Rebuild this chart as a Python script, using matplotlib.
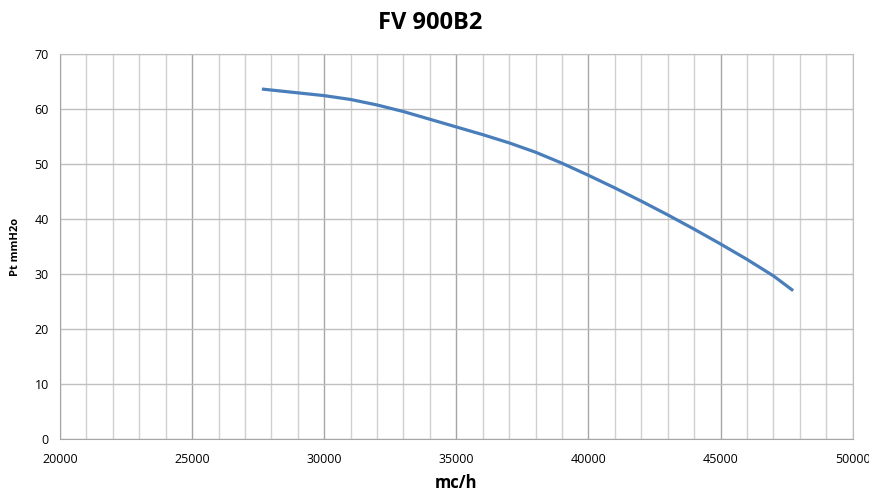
import matplotlib.pyplot as plt
import numpy as np
from matplotlib.ticker import MultipleLocator

plt.rcParams['font.family'] = ['Open Sans', 'DejaVu Sans']

title = "FV 900B2"
flow = [27640, 30000, 31000, 32000, 33000, 34000, 35000, 36000, 37000, 38000,
        39000, 40000, 41000, 42000, 43000, 44000, 45000, 46000, 47000, 47750]
pressure = [63.7, 62.5, 61.8, 60.8, 59.6, 58.2, 56.8, 55.4, 53.9, 52.2,
            50.2, 48.0, 45.7, 43.3, 40.8, 38.2, 35.5, 32.7, 29.7, 27.0]

fig = plt.figure(figsize=(8.7, 5.04), dpi=100)
ax = fig.add_axes([0.069, 0.129, 0.911, 0.763])

ax.plot(flow, pressure, color="#4a7ebb", linewidth=2.3,
        solid_capstyle="butt", solid_joinstyle="round")

ax.set_xlim(20000, 50000)
ax.set_ylim(0, 70)
ax.xaxis.set_major_locator(MultipleLocator(5000))
ax.xaxis.set_minor_locator(MultipleLocator(1000))
ax.yaxis.set_major_locator(MultipleLocator(10))
ax.grid(which="major", axis="x", color="#a6a6a6", linewidth=1.0)
ax.grid(which="minor", axis="x", color="#d0d0d0", linewidth=1.0)
ax.grid(which="major", axis="y", color="#bfbfbf", linewidth=1.0)
ax.set_axisbelow(True)
for s in ax.spines.values():
    s.set_color("#bfbfbf")
ax.spines["left"].set_color("#a6a6a6")
ax.spines["bottom"].set_color("#a6a6a6")
ax.tick_params(which="both", length=0, labelsize=9)
ax.tick_params(axis="x", pad=10)
ax.tick_params(axis="y", pad=8)

fig.text(0.495, 0.955, title, fontsize=17, fontweight="bold",
         ha="center", va="center")
ax.set_xlabel("mc/h", fontsize=12, fontweight="bold", labelpad=6)
ax.set_ylabel("Pt mmH2o", fontsize=8, fontweight="bold", labelpad=10)

fig.savefig("out.png", dpi=100)
